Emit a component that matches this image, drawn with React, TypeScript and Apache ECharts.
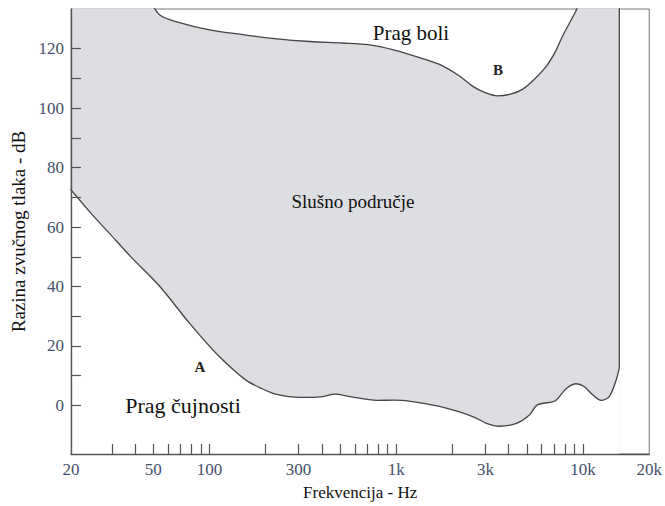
import React, { useEffect, useRef } from "react";
import * as echarts from "echarts";

// Threshold of hearing (A) — frequency in Hz, level in dB
const LOWER_FREQ = [18, 22.9, 25.9, 29.3, 37.5, 54.2, 78.5, 109, 156, 190, 229, 304, 404, 468, 563, 785, 979, 1222, 1704, 2181, 2622, 3040, 3567, 4399, 5162, 5696, 6852, 7198, 8142, 9209, 10160, 11210, 12530, 13820, 15070, 15640];
const LOWER_DB = [72.7, 65, 61.3, 57.7, 50.3, 40, 27.5, 17.4, 8.6, 5.7, 3.7, 2.7, 3, 3.8, 3, 1.7, 1.8, 1.3, -0.3, -2.2, -4, -6, -7, -6, -3.2, 0.2, 1.2, 1.8, 5.7, 7.3, 6.3, 3.7, 1.7, 3, 8.7, 12.7];

// Threshold of pain (B)
const UPPER_FREQ = [18, 42.4, 54.2, 66.8, 100, 151, 229, 344, 516, 720, 956, 1332, 1704, 2181, 2559, 2967, 3481, 4086, 4736, 5490, 6364, 7110, 7752, 9209, 10160, 15640];
const UPPER_DB = [140, 139, 131.3, 129, 126.3, 124.7, 123.3, 122.4, 121.9, 121.3, 119.7, 117, 114.7, 110.8, 107.4, 105.3, 104.1, 104.7, 106.3, 109.7, 114.1, 119, 124.1, 133, 139, 140];

const X_LABEL_FREQ = [20, 50, 100, 300, 1000, 3000, 10000, 20000];
const X_LABELS = ["20", "50", "100", "300", "1k", "3k", "10k", "20k"];
const X_TICK_FREQ = [30, 40, 50, 60, 70, 80, 90, 100, 200, 300, 400, 500, 600, 700, 800, 900, 1000, 2000, 3000, 4000, 5000, 6000, 7000, 8000, 9000, 10000];
const Y_TICKS = [0, 10, 20, 30, 40, 50, 60, 70, 80, 90, 100, 110, 120];
const Y_LABELS = [0, 20, 40, 60, 80, 100, 120];

const X_MIN = Math.log10(18.13);
const X_MAX = Math.log10(22620);
const Y_MIN = -16.33;
const Y_MAX = 133.33;

const FONT = "Liberation Serif";
const LINE = "#444";
const AXIS = "#555";

export default function App() {
  const ref = useRef<HTMLDivElement>(null);
  useEffect(() => {
    if (!ref.current) return;
    const chart = echarts.init(ref.current, null, { renderer: "svg" });
    const lower = LOWER_FREQ.map((f, i) => [Math.log10(f), LOWER_DB[i]]);
    const upper = UPPER_FREQ.map((f, i) => [Math.log10(f), UPPER_DB[i]]);
    const lastF = Math.log10(LOWER_FREQ[LOWER_FREQ.length - 1]);
    const edge = [
      [lastF, LOWER_DB[LOWER_DB.length - 1]],
      [lastF, UPPER_DB[UPPER_DB.length - 1]],
    ];
    const labelPos = X_LABEL_FREQ.map((f, i) =>
      i === 0 ? X_MIN : i === X_LABEL_FREQ.length - 1 ? X_MAX : Math.log10(f)
    );
    const option: any = {
      animation: false,
      grid: {
        left: 71,
        top: 9,
        right: 15,
        bottom: 48,
        show: true,
        z: 1,
        backgroundColor: "transparent",
        borderColor: "#777",
        borderWidth: 1,
      },
      xAxis: {
        type: "value",
        min: X_MIN,
        max: X_MAX,
        z: 10,
        splitLine: { show: false },
        axisLine: { show: true, onZero: false, lineStyle: { color: AXIS, width: 1.4 } },
        axisTick: {
          show: true,
          inside: true,
          length: 10,
          lineStyle: { color: AXIS, width: 1.2 },
          customValues: X_TICK_FREQ.map((f) => Math.log10(f)),
        },
        axisLabel: {
          customValues: labelPos,
          showMinLabel: true,
          showMaxLabel: true,
          margin: 7,
          fontFamily: FONT,
          fontSize: 17,
          color: "#44506a",
          formatter: (v: number) => {
            let best = 0;
            labelPos.forEach((p, i) => {
              if (Math.abs(p - v) < Math.abs(labelPos[best] - v)) best = i;
            });
            return X_LABELS[best];
          },
        },
        name: "Frekvencija - Hz",
        nameLocation: "middle",
        nameGap: 30,
        nameTextStyle: { fontFamily: FONT, fontSize: 17, color: "#111" },
      },
      yAxis: {
        type: "value",
        min: Y_MIN,
        max: Y_MAX,
        z: 10,
        splitLine: { show: false },
        axisLine: { show: true, onZero: false, lineStyle: { color: AXIS, width: 1.4 } },
        axisTick: {
          show: true,
          inside: true,
          length: 10,
          lineStyle: { color: AXIS, width: 1.2 },
          customValues: Y_TICKS,
        },
        axisLabel: {
          customValues: Y_LABELS,
          margin: 7,
          fontFamily: FONT,
          fontSize: 17,
          color: "#44506a",
        },
        name: "Razina zvučnog tlaka - dB",
        nameLocation: "middle",
        nameGap: 40,
        nameTextStyle: { fontFamily: FONT, fontSize: 19, color: "#111" },
      },
      series: [
        {
          type: "line",
          data: upper,
          smooth: 0.3,
          showSymbol: false,
          lineStyle: { color: LINE, width: 1.3 },
          areaStyle: { color: "#dddee1", opacity: 1, origin: "start" },
          z: 2,
        },
        {
          type: "line",
          data: lower,
          smooth: 0.3,
          showSymbol: false,
          lineStyle: { color: LINE, width: 1.3 },
          areaStyle: { color: "#ffffff", opacity: 1, origin: "start" },
          z: 3,
        },
        {
          type: "line",
          data: edge,
          showSymbol: false,
          lineStyle: { color: LINE, width: 1.3 },
          z: 4,
        },
      ],
      graphic: [
        { type: "text", x: 411, y: 33, z: 20, style: { text: "Prag boli", font: `21px "${FONT}"`, fill: "#111", align: "center", verticalAlign: "middle" } },
        { type: "text", x: 498, y: 70, z: 20, style: { text: "B", font: `bold 15px "${FONT}"`, fill: "#222", align: "center", verticalAlign: "middle" } },
        { type: "text", x: 353, y: 201, z: 20, style: { text: "Slušno područje", font: `19px "${FONT}"`, fill: "#111", align: "center", verticalAlign: "middle" } },
        { type: "text", x: 200, y: 367, z: 20, style: { text: "A", font: `bold 15px "${FONT}"`, fill: "#222", align: "center", verticalAlign: "middle" } },
        { type: "text", x: 183, y: 405, z: 20, style: { text: "Prag čujnosti", font: `22px "${FONT}"`, fill: "#111", align: "center", verticalAlign: "middle" } },
      ],
    };
    chart.setOption(option);
    return () => chart.dispose();
  }, []);
  return <div ref={ref} style={{ width: 665, height: 506, position: "absolute", left: 0, top: 0 }} />;
}
